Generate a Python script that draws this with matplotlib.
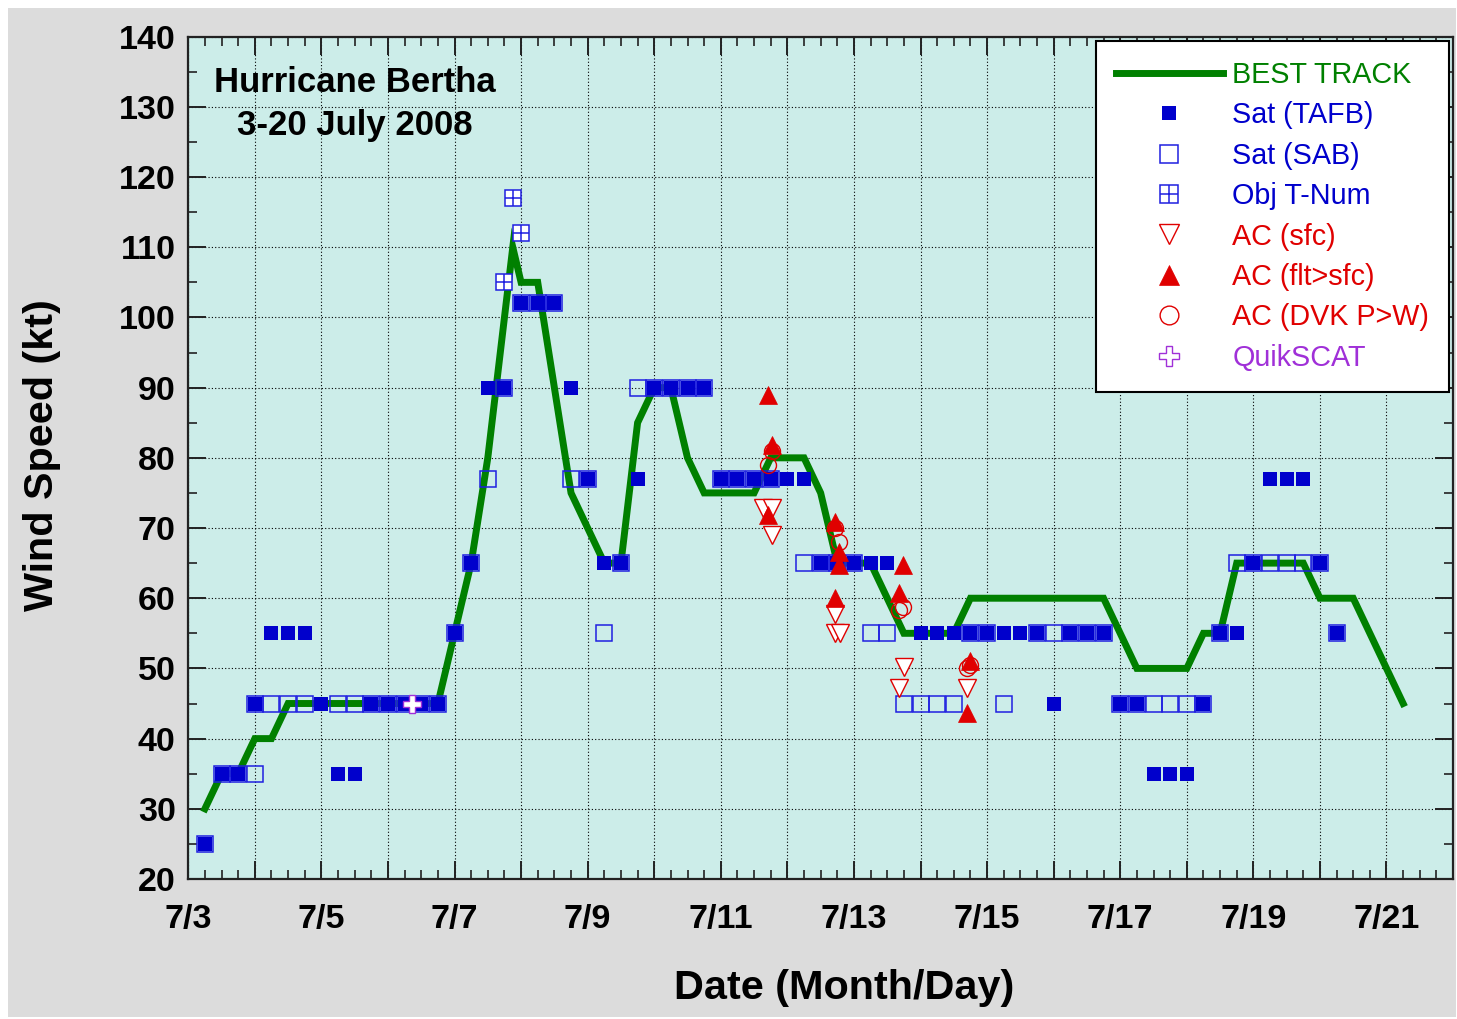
import matplotlib.pyplot as plt
from matplotlib.lines import Line2D
from matplotlib.patches import Rectangle
import numpy as np

plt.rcParams['font.family'] = ['Liberation Sans', 'DejaVu Sans']

# best track (day of July, kt)
bt_day = [3.25, 3.5, 3.75, 4.0, 4.25, 4.5, 4.75, 5.0, 5.25, 5.5, 5.75, 6.0, 6.25, 6.5, 6.75,
          7.0, 7.25, 7.5, 7.75, 7.875, 8.0, 8.25, 8.5, 8.75, 9.0, 9.25, 9.5, 9.75, 10.0,
          10.25, 10.5, 10.75, 11.0, 11.25, 11.5, 11.75, 12.0, 12.25, 12.5, 12.75, 13.0,
          13.25, 13.5, 13.75, 14.0, 14.25, 14.5, 14.75, 15.0, 15.25, 15.5, 15.75, 16.0,
          16.25, 16.5, 16.75, 17.0, 17.25, 17.5, 17.75, 18.0, 18.25, 18.5, 18.75, 19.0,
          19.25, 19.5, 19.75, 20.0, 20.25, 20.5, 20.75, 21.0, 21.25]
bt_kt = [30, 35, 35, 40, 40, 45, 45, 45, 45, 45, 45, 45, 45, 45, 45,
         55, 65, 80, 100, 110, 105, 105, 90, 75, 70, 65, 65, 85, 90,
         90, 80, 75, 75, 75, 75, 80, 80, 80, 75, 65, 65,
         65, 60, 55, 55, 55, 55, 60, 60, 60, 60, 60, 60,
         60, 60, 60, 55, 50, 50, 50, 50, 55, 55, 65, 65,
         65, 65, 65, 60, 60, 60, 55, 50, 45]

# satellite (TAFB)
tafb_day = [3.25, 3.5, 3.75, 4.0, 4.25, 4.5, 4.75, 5.0, 5.25, 5.5, 5.75, 6.0, 6.25, 6.5, 6.75,
            7.0, 7.25, 7.5, 7.75, 8.0, 8.25, 8.5, 8.75, 9.0, 9.25, 9.5, 9.75, 10.0, 10.25,
            10.5, 10.75, 11.0, 11.25, 11.5, 11.75, 12.0, 12.25, 12.5, 12.75, 13.0, 13.25,
            13.5, 14.0, 14.25, 14.5, 14.75, 15.0, 15.25, 15.5, 15.75, 16.0, 16.25, 16.5,
            16.75, 17.0, 17.25, 17.5, 17.75, 18.0, 18.25, 18.5, 18.75, 19.0, 19.25, 19.5,
            19.75, 20.0, 20.25]
tafb_kt = [25, 35, 35, 45, 55, 55, 55, 45, 35, 35, 45, 45, 45, 45, 45,
           55, 65, 90, 90, 102, 102, 102, 90, 77, 65, 65, 77, 90, 90,
           90, 90, 77, 77, 77, 77, 77, 77, 65, 65, 65, 65,
           65, 55, 55, 55, 55, 55, 55, 55, 55, 45, 55, 55,
           55, 45, 45, 35, 35, 35, 45, 55, 55, 65, 77, 77,
           77, 65, 55]

# satellite (SAB)
sab_day = [3.25, 3.5, 3.75, 4.0, 4.0, 4.25, 4.5, 4.75, 5.25, 5.5, 5.75, 6.0, 6.25, 6.5, 6.75,
           7.0, 7.25, 7.5, 7.75, 8.0, 8.25, 8.5, 8.75, 9.0, 9.25, 9.5, 9.75, 10.0, 10.25,
           10.5, 10.75, 11.0, 11.25, 11.5, 11.75, 12.25, 12.5, 12.75, 13.0, 13.25, 13.5,
           13.75, 14.0, 14.25, 14.5, 14.75, 15.0, 15.25, 15.75, 16.0, 16.25, 16.5, 16.75,
           17.0, 17.25, 17.5, 17.75, 18.0, 18.25, 18.5, 18.75, 19.0, 19.25, 19.5, 19.75,
           20.0, 20.25]
sab_kt = [25, 35, 35, 35, 45, 45, 45, 45, 45, 45, 45, 45, 45, 45, 45,
          55, 65, 77, 90, 102, 102, 102, 77, 77, 55, 65, 90, 90, 90,
          90, 90, 77, 77, 77, 77, 65, 65, 65, 65, 55, 55,
          45, 45, 45, 45, 55, 55, 45, 55, 55, 55, 55, 55,
          45, 45, 45, 45, 45, 45, 55, 65, 65, 65, 65, 65,
          65, 55]

# objective T-numbers
obj_day = [7.75, 7.875, 8.0]
obj_kt = [105, 117, 112]

# aircraft surface winds
sfc_day = [11.64, 11.765, 11.765, 12.716, 12.716, 12.79, 13.753, 13.682, 14.694]
sfc_kt = [72.8, 72.8, 69, 57.8, 55, 55, 50.2, 47.2, 47.2]

# aircraft flight level reduced to surface
flt_day = [11.705, 11.765, 11.705, 12.716, 12.78, 12.78, 12.716, 13.742, 13.682, 14.744, 14.694]
flt_kt = [88.9, 81.8, 71.9, 70.9, 66.6, 64.7, 60, 64.7, 60.7, 51, 43.7]

# aircraft dvorak pressure-wind
dvk_day = [11.765, 11.714, 12.716, 12.78, 13.682, 13.742, 14.744, 14.694]
dvk_kt = [81, 79, 70, 68, 58.3, 58.8, 50.5, 50]

# quikscat
qs_day = [6.357]
qs_kt = [45]

green = '#008000'
blue = '#0000cc'
red = '#e00000'
purple = '#a030d8'

fig = plt.figure(figsize=(14.57, 10.19), dpi=100)
fig.patch.set_facecolor('white')
fig.patches.append(Rectangle((0.0055, 0.002), 0.994, 0.990, transform=fig.transFigure,
                             facecolor='#dcdcdc', edgecolor='none', zorder=-10))
ax = fig.add_axes([0.1292, 0.1374, 0.8681, 0.8266])
ax.set_facecolor('#ccede9')

ax.plot(bt_day, bt_kt, color=green, lw=5, solid_joinstyle='miter', zorder=2)
ax.plot(tafb_day, tafb_kt, ls='none', marker='s', ms=9.6, mfc=blue, mec=blue, mew=0, zorder=3)
ax.plot(sab_day, sab_kt, ls='none', marker='s', ms=11.4, mfc='none', mec='#1f1fe0', mew=1.1, zorder=4)
ax.plot(obj_day, obj_kt, ls='none', marker='s', ms=11.4, mfc='white', mec='#1f1fe0', mew=1.1, zorder=4)
ax.plot(obj_day, obj_kt, ls='none', marker='+', ms=11.4, mec='#1f1fe0', mew=1.1, zorder=5)
ax.plot(sfc_day, sfc_kt, ls='none', marker='v', ms=12.5, mfc='white', mec=red, mew=1, zorder=5)
ax.plot(flt_day, flt_kt, ls='none', marker='^', ms=12.5, mfc=red, mec=red, mew=0.5, zorder=6)
ax.plot(dvk_day, dvk_kt, ls='none', marker='o', ms=11.5, mfc='none', mec=red, mew=1, zorder=7)
ax.plot(qs_day, qs_kt, ls='none', marker='P', ms=12.5, mfc='white', mec=purple, mew=1, zorder=8)

ax.set_xlim(3, 22)
ax.set_ylim(20, 140)
ax.set_xticks(np.arange(3, 23))
ax.set_xticklabels(['7/%d' % d if d % 2 == 1 and d < 22 else '' for d in range(3, 23)])
ax.set_xticks(np.arange(3, 22.01, 0.25), minor=True)
ax.set_yticks(np.arange(20, 141, 10))
ax.set_yticks(np.arange(20, 141, 5), minor=True)
ax.tick_params(which='both', direction='in', top=True, right=True, color='#222222')
ax.tick_params(which='major', length=13, width=1.4, labelsize=24.5)
ax.tick_params(which='minor', length=6.5, width=1.2)
ax.tick_params(axis='x', pad=18)
ax.tick_params(axis='y', pad=9)
for lbl in ax.get_xticklabels() + ax.get_yticklabels():
    lbl.set_fontweight('bold')
for sp in ax.spines.values():
    sp.set_linewidth(1.6)
    sp.set_color('#222222')

ax.grid(which='major', color='black', linestyle=(0, (1, 2)), linewidth=0.8)
ax.set_axisbelow(True)

ax.text(0.1318, 0.9460, 'Hurricane Bertha', transform=ax.transAxes, ha='center', va='center',
        fontsize=25, fontweight='bold')
ax.text(0.1318, 0.8940, '3-20 July 2008', transform=ax.transAxes, ha='center', va='center',
        fontsize=25, fontweight='bold')

fig.text(0.5793, 0.0304, 'Date (Month/Day)', ha='center', va='center', fontsize=29.8, fontweight='bold')
fig.text(0.0288, 0.5535, 'Wind Speed (kt)', ha='center', va='center', rotation=90,
         fontsize=29.8, fontweight='bold')

# legend
h_bt = Line2D([], [], color=green, lw=5)
h_tafb = Line2D([], [], ls='none', marker='s', ms=10, mfc=blue, mec=blue, mew=0)
h_sab = Line2D([], [], ls='none', marker='s', ms=13, mfc='none', mec='#1f1fe0', mew=1.1)
h_obj1 = Line2D([], [], ls='none', marker='s', ms=13, mfc='none', mec='#1f1fe0', mew=1.1)
h_obj2 = Line2D([], [], ls='none', marker='+', ms=13, mec='#1f1fe0', mew=1.1)
h_sfc = Line2D([], [], ls='none', marker='v', ms=14, mfc='white', mec=red, mew=1)
h_flt = Line2D([], [], ls='none', marker='^', ms=14, mfc=red, mec=red, mew=0.5)
h_dvk = Line2D([], [], ls='none', marker='o', ms=13.5, mfc='none', mec=red, mew=1)
h_qs = Line2D([], [], ls='none', marker='P', ms=14, mfc='white', mec=purple, mew=1)
handles = [h_bt, h_tafb, h_sab, (h_obj1, h_obj2), h_sfc, h_flt, h_dvk, h_qs]
labels = ['BEST TRACK', 'Sat (TAFB)', 'Sat (SAB)', 'Obj T-Num', 'AC (sfc)', 'AC (flt>sfc)',
          'AC (DVK P>W)', 'QuikSCAT']
leg = ax.legend(handles, labels, loc='upper left', bbox_to_anchor=(0.7177, 0.9949),
                borderaxespad=0, fontsize=20.7,
                labelcolor=[green, blue, blue, blue, red, red, red, purple],
                handlelength=3.7, handletextpad=0.34, borderpad=0.7, labelspacing=0.43,
                fancybox=False, edgecolor='black', framealpha=1, facecolor='white')
leg.get_frame().set_linewidth(1.5)
leg.set_zorder(10)

fig.savefig('out.png', dpi=100)
